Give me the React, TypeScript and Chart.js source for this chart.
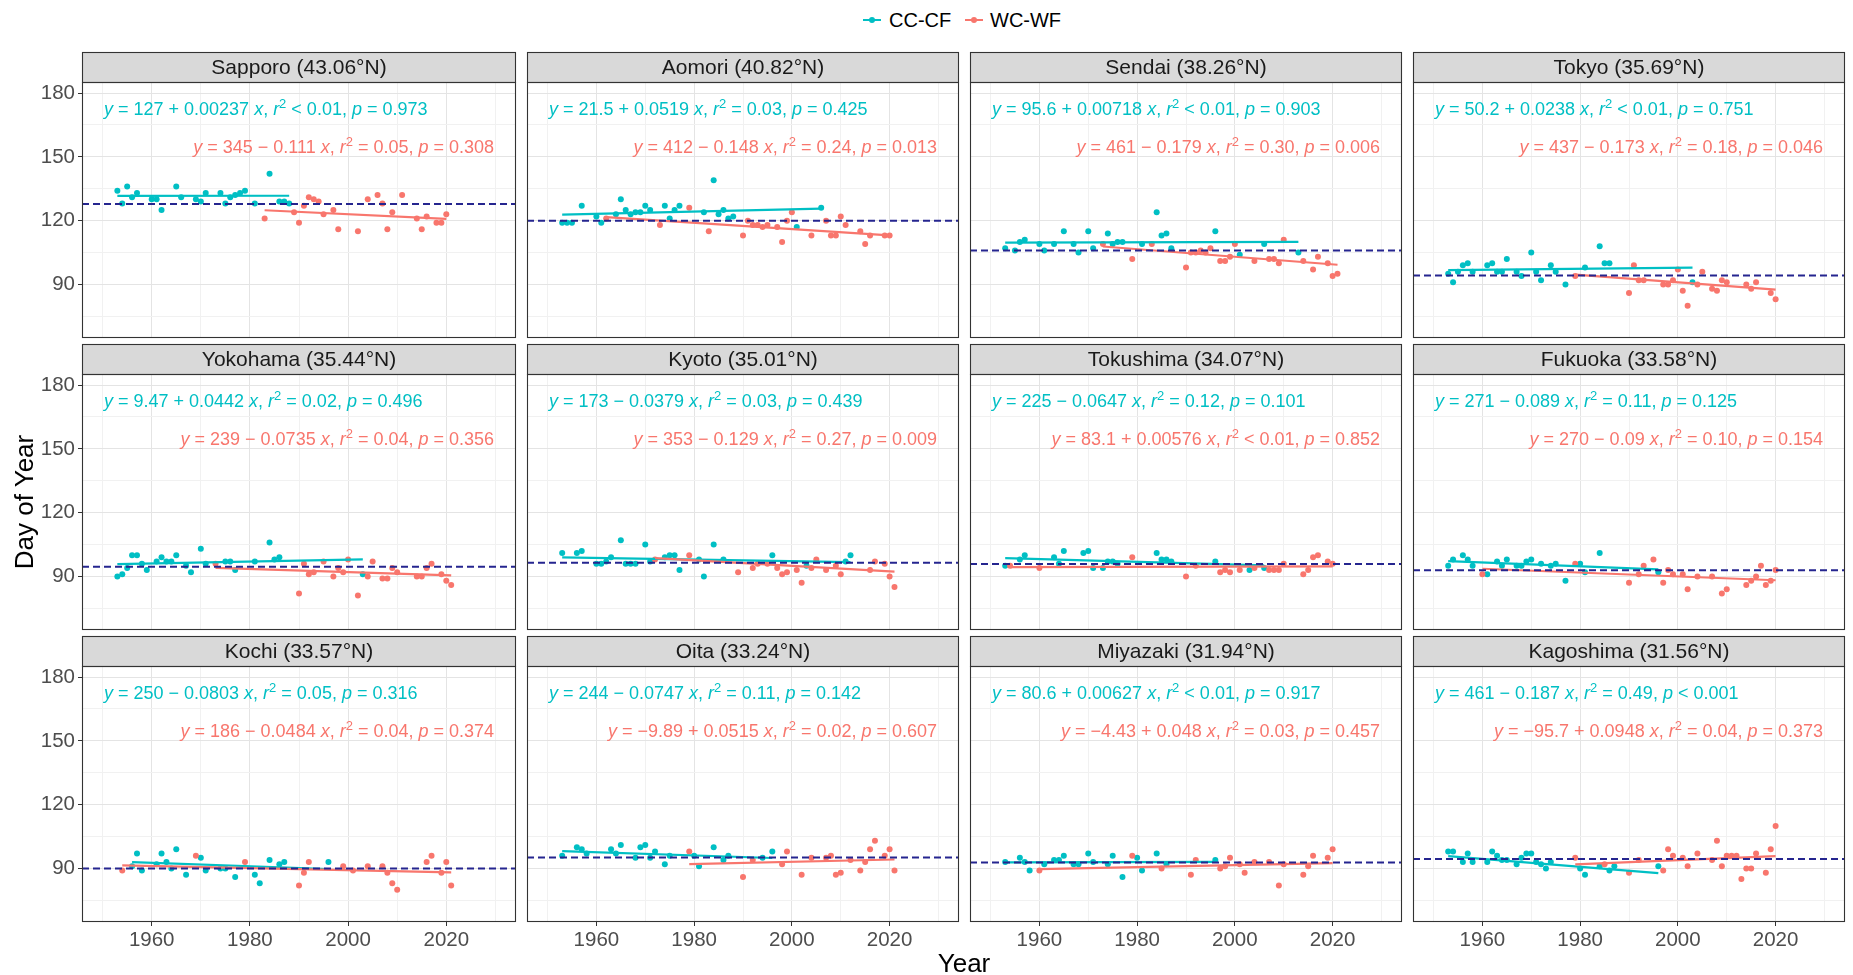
import React, { useEffect, useRef } from "react";
import { Chart, registerables } from "chart.js";

Chart.register(...registerables);

const FONT = '"Liberation Sans", Arial, Helvetica, sans-serif';
const CC_COLOR = "#00BFC4";
const WC_COLOR = "#F8766D";
const REF_COLOR = "#25258f";

// ---- Data -------------------------------------------------------------

const stationNames = [
  "Sapporo (43.06°N)", "Aomori (40.82°N)", "Sendai (38.26°N)", "Tokyo (35.69°N)",
  "Yokohama (35.44°N)", "Kyoto (35.01°N)", "Tokushima (34.07°N)", "Fukuoka (33.58°N)",
  "Kochi (33.57°N)", "Oita (33.24°N)", "Miyazaki (31.94°N)", "Kagoshima (31.56°N)",
];

// [year, day of year]
const sapporoCC = [[1953,134],[1954,128],[1955,136],[1956,131],[1957,133],[1960,130],[1961,130],[1962,125],[1965,136],[1966,131],[1969,130],[1970,129],[1971,133],[1974,133],[1975,128],[1976,131],[1977,132],[1978,133],[1979,134],[1981,128],[1984,142],[1986,129],[1987,129],[1988,128]];
const sapporoWC = [[1983,121],[1989,124],[1990,119],[1991,127],[1992,131],[1993,130],[1994,129],[1995,123],[1997,125],[1998,116],[2002,115],[2004,130],[2006,132],[2007,128],[2008,116],[2009,124],[2011,132],[2014,121],[2015,116],[2016,122],[2018,119],[2019,119],[2020,123]];
const aomoriCC = [[1953,119],[1954,119],[1955,119],[1957,127],[1960,122],[1961,119],[1964,123],[1965,130],[1966,125],[1967,123],[1968,124],[1969,124],[1970,127],[1971,125],[1974,127],[1975,121],[1976,125],[1977,127],[1982,124],[1984,139],[1985,123],[1986,125],[1987,121],[1988,122],[2001,117],[2006,126]];
const aomoriWC = [[1962,121],[1973,118],[1979,126],[1983,115],[1990,113],[1991,120],[1992,118],[1993,118],[1994,117],[1995,118],[1997,117],[1998,110],[1999,120],[2000,124],[2004,113],[2007,120],[2008,113],[2009,113],[2010,122],[2011,118],[2014,115],[2015,109],[2016,113],[2019,113],[2020,113]];
const sendaiCC = [[1953,107],[1955,106],[1956,110],[1957,111],[1960,109],[1961,106],[1963,109],[1965,115],[1967,109],[1968,105],[1970,115],[1971,107],[1974,114],[1975,109],[1976,110],[1977,110],[1981,109],[1984,124],[1985,113],[1986,114],[1987,107],[1996,115],[2001,104],[2006,109],[2013,105]];
const sendaiWC = [[1973,109],[1979,102],[1983,109],[1990,98],[1991,105],[1992,105],[1993,106],[1994,105],[1995,107],[1997,101],[1998,101],[1999,103],[2000,109],[2004,101],[2007,102],[2008,102],[2009,100],[2010,111],[2014,101],[2016,97],[2017,103],[2019,100],[2020,94],[2021,95]];
const tokyoCC = [[1953,95],[1954,91],[1955,96],[1956,99],[1957,100],[1958,96],[1961,99],[1962,100],[1963,96],[1964,96],[1965,102],[1967,96],[1968,94],[1970,105],[1971,96],[1972,92],[1974,99],[1975,96],[1977,90],[1981,98],[1984,108],[1985,100],[1986,100],[2003,91]];
const tokyoWC = [[1979,94],[1990,86],[1991,99],[1992,92],[1993,92],[1997,90],[1998,90],[1999,92],[2000,97],[2001,87],[2002,80],[2004,90],[2005,96],[2007,88],[2008,87],[2009,92],[2010,91],[2014,90],[2015,88],[2016,91],[2019,86],[2020,83]];
const yokohamaCC = [[1953,90],[1954,91],[1955,94],[1956,100],[1957,100],[1958,96],[1959,93],[1961,97],[1962,99],[1963,97],[1964,97],[1965,100],[1967,95],[1968,92],[1970,103],[1971,96],[1975,97],[1976,97],[1977,93],[1981,97],[1984,106],[1985,98],[1986,99],[2003,91]];
const yokohamaWC = [[1973,96],[1990,82],[1991,96],[1992,91],[1993,92],[1995,97],[1997,90],[1998,94],[1999,92],[2000,98],[2002,81],[2004,90],[2005,97],[2007,89],[2008,89],[2009,94],[2010,92],[2014,90],[2015,90],[2016,94],[2017,96],[2019,91],[2020,88],[2021,86]];
const kyotoCC = [[1953,101],[1956,101],[1957,102],[1960,96],[1961,96],[1962,97],[1963,99],[1965,107],[1966,96],[1967,96],[1968,96],[1970,105],[1971,97],[1974,99],[1975,100],[1976,100],[1977,93],[1981,98],[1982,90],[1984,105],[1986,98],[1996,100],[2003,95],[2011,97],[2012,100]];
const kyotoWC = [[1972,98],[1979,100],[1989,92],[1992,94],[1993,96],[1995,96],[1997,94],[1998,91],[1999,92],[2001,93],[2002,87],[2004,94],[2005,98],[2007,93],[2009,95],[2010,91],[2016,93],[2017,97],[2019,96],[2020,90],[2021,85]];
const tokushimaCC = [[1953,95],[1956,98],[1957,100],[1963,99],[1964,96],[1965,102],[1969,101],[1970,102],[1971,94],[1973,94],[1974,97],[1975,97],[1976,96],[1984,101],[1985,98],[1986,98],[1987,97],[1996,97],[2003,93],[2006,94]];
const tokushimaWC = [[1954,95],[1960,94],[1979,99],[1990,90],[1992,95],[1997,92],[1998,93],[1999,92],[2001,93],[2004,94],[2007,93],[2008,93],[2009,93],[2010,96],[2014,91],[2015,93],[2016,99],[2017,100],[2019,97],[2020,96]];
const fukuokaCC = [[1953,95],[1954,98],[1956,100],[1957,98],[1958,95],[1961,91],[1963,97],[1964,95],[1965,98],[1967,95],[1968,95],[1969,97],[1970,98],[1972,96],[1974,95],[1975,96],[1977,88],[1980,96],[1981,92],[1984,101],[1996,92]];
const fukuokaWC = [[1960,91],[1979,96],[1990,87],[1992,91],[1993,95],[1995,98],[1997,87],[1998,93],[1999,91],[2001,91],[2002,84],[2004,90],[2007,90],[2009,82],[2010,84],[2014,86],[2015,88],[2016,90],[2017,95],[2018,86],[2019,88],[2020,93]];
const kochiCC = [[1956,91],[1957,97],[1958,89],[1961,92],[1962,97],[1963,93],[1964,90],[1965,99],[1967,87],[1970,95],[1971,89],[1974,90],[1975,90],[1977,86],[1981,87],[1982,83],[1984,94],[1986,92],[1987,93],[1996,93]];
const kochiWC = [[1954,89],[1969,96],[1979,93],[1990,82],[1991,88],[1992,93],[1999,91],[2001,89],[2004,91],[2007,91],[2008,88],[2009,83],[2010,80],[2016,93],[2017,96],[2019,88],[2020,93],[2021,82]];
const oitaCC = [[1953,96],[1956,100],[1957,99],[1958,97],[1963,99],[1964,97],[1965,101],[1968,95],[1969,100],[1970,101],[1971,95],[1972,98],[1974,92],[1975,96],[1980,96],[1981,91],[1984,100],[1986,94],[1987,96],[1994,95],[1996,98]];
const oitaWC = [[1979,98],[1990,86],[1992,94],[1998,92],[1999,98],[2002,87],[2004,95],[2007,95],[2008,96],[2009,87],[2010,88],[2012,94],[2014,89],[2015,93],[2016,99],[2017,103],[2019,96],[2020,99],[2021,89]];
const miyazakiCC = [[1953,93],[1956,95],[1957,93],[1958,89],[1961,92],[1963,94],[1964,94],[1965,96],[1967,92],[1968,92],[1970,97],[1971,93],[1974,92],[1975,96],[1977,86],[1980,95],[1981,89],[1984,97],[1986,92],[1996,94]];
const miyazakiWC = [[1960,89],[1979,96],[1985,90],[1991,87],[1992,94],[1997,90],[1998,91],[1999,95],[2001,92],[2002,88],[2004,93],[2007,93],[2009,82],[2010,92],[2014,87],[2015,91],[2016,96],[2019,95],[2020,99]];
const kagoshimaCC = [[1953,98],[1954,98],[1956,93],[1957,97],[1958,93],[1961,93],[1962,98],[1963,96],[1964,94],[1965,94],[1967,92],[1968,95],[1969,97],[1970,97],[1971,93],[1972,92],[1973,90],[1974,93],[1980,90],[1981,87],[1984,91],[1986,89],[1987,91],[1996,91]];
const kagoshimaWC = [[1979,95],[1985,92],[1990,88],[1992,94],[1997,89],[1998,99],[1999,96],[2001,95],[2002,91],[2004,97],[2007,94],[2008,103],[2009,91],[2010,96],[2011,96],[2012,96],[2013,85],[2014,90],[2015,90],[2016,97],[2018,88],[2019,99],[2020,110]];

const ccSeries = [sapporoCC, aomoriCC, sendaiCC, tokyoCC, yokohamaCC, kyotoCC, tokushimaCC, fukuokaCC, kochiCC, oitaCC, miyazakiCC, kagoshimaCC];
const wcSeries = [sapporoWC, aomoriWC, sendaiWC, tokyoWC, yokohamaWC, kyotoWC, tokushimaWC, fukuokaWC, kochiWC, oitaWC, miyazakiWC, kagoshimaWC];

// linear fits: day = intercept + slope * year
const ccIntercept = [127, 21.5, 95.6, 50.2, 9.47, 173, 225, 271, 250, 244, 80.6, 461];
const ccSlope = [0.00237, 0.0519, 0.00718, 0.0238, 0.0442, -0.0379, -0.0647, -0.089, -0.0803, -0.0747, 0.00627, -0.187];
const ccR2 = ["< 0.01", "= 0.03", "< 0.01", "< 0.01", "= 0.02", "= 0.03", "= 0.12", "= 0.11", "= 0.05", "= 0.11", "< 0.01", "= 0.49"];
const ccP = ["= 0.973", "= 0.425", "= 0.903", "= 0.751", "= 0.496", "= 0.439", "= 0.101", "= 0.125", "= 0.316", "= 0.142", "= 0.917", "< 0.001"];

const wcIntercept = [345, 412, 461, 437, 239, 353, 83.1, 270, 186, -9.89, -4.43, -95.7];
const wcSlope = [-0.111, -0.148, -0.179, -0.173, -0.0735, -0.129, 0.00576, -0.09, -0.0484, 0.0515, 0.048, 0.0948];
const wcR2 = ["= 0.05", "= 0.24", "= 0.30", "= 0.18", "= 0.04", "= 0.27", "< 0.01", "= 0.10", "= 0.04", "= 0.02", "= 0.03", "= 0.04"];
const wcP = ["= 0.308", "= 0.013", "= 0.006", "= 0.046", "= 0.356", "= 0.009", "= 0.852", "= 0.154", "= 0.374", "= 0.607", "= 0.457", "= 0.373"];

// long-term reference day per station (dashed line)
const refDay = [127.8, 120, 106, 94.2, 94.5, 96.4, 95.8, 92.9, 90, 95.1, 92.8, 94.4];

const xTicks = [1950, 1960, 1970, 1980, 1990, 2000, 2010, 2020, 2030];
const yTicks = [75, 90, 105, 120, 135, 150, 165, 180];
const X_MIN = 1945.8;
const X_MAX = 2034.2;
const Y_MIN = 64.8;
const Y_MAX = 185.2;

// ---- Layout -----------------------------------------------------------

const COL_LEFT = [82, 525, 968, 1411];
const ROW_TOP = [52, 344, 636];
const PLOT_W = 436;
const PLOT_H = 256;
const STRIP_H = 30;
const PAD = 2;
const PAD_B = 16; // room for the half-height of the lowest y tick label box
const Y_AXIS_W = 64;
const X_AXIS_H = 40;

function fmtNum(v: number) {
  return v < 0 ? "\u2212" + String(Math.abs(v)) : String(v);
}

function eqLabel(a: number, b: number, r2: string, p: string) {
  return `y = ${fmtNum(a)} ${b < 0 ? "\u2212" : "+"} ${Math.abs(b)} x, r² ${r2}, p ${p}`;
}

function drawRich(ctx: CanvasRenderingContext2D, text: string, x: number, y: number, align: "left" | "right", color: string, size: number) {
  const segs: { t: string; kind: string }[] = [];
  const isAl = (c?: string) => !!c && /[A-Za-z0-9]/.test(c);
  for (let i = 0; i < text.length; i++) {
    const ch = text[i];
    let kind = "n";
    if (ch === "²") kind = "s";
    else if ("yxrp".includes(ch) && !isAl(text[i - 1]) && !isAl(text[i + 1])) kind = "i";
    const t = kind === "s" ? "2" : ch;
    const last = segs[segs.length - 1];
    if (last && last.kind === kind) last.t += t;
    else segs.push({ t, kind });
  }
  const fontFor = (k: string) =>
    k === "i" ? `italic ${size}px ${FONT}` : k === "s" ? `${Math.round(size * 0.7)}px ${FONT}` : `${size}px ${FONT}`;
  let total = 0;
  const widths = segs.map((s) => {
    ctx.font = fontFor(s.kind);
    const w = ctx.measureText(s.t).width;
    total += w;
    return w;
  });
  let cx = align === "right" ? x - total : x;
  ctx.fillStyle = color;
  ctx.textAlign = "left";
  ctx.textBaseline = "alphabetic";
  segs.forEach((s, i) => {
    ctx.font = fontFor(s.kind);
    ctx.fillText(s.t, cx, s.kind === "s" ? y - size * 0.4 : y);
    cx += widths[i];
  });
}

function fitLine(pts: number[][], a: number, b: number) {
  const xs = pts.map((p) => p[0]);
  const x0 = Math.min(...xs);
  const x1 = Math.max(...xs);
  return [
    { x: x0, y: a + b * x0 },
    { x: x1, y: a + b * x1 },
  ];
}

function Panel({ idx }: { idx: number }) {
  const ref = useRef<HTMLCanvasElement | null>(null);
  const row = Math.floor(idx / 4);
  const col = idx % 4;
  const axisW = col === 0 ? Y_AXIS_W : 0;
  const axisH = row === 2 ? X_AXIS_H : 0;
  const w = PAD + axisW + PLOT_W + PAD;
  const h = PAD + STRIP_H + PLOT_H + axisH + PAD_B;
  const left = COL_LEFT[col] - axisW - PAD;
  const top = ROW_TOP[row] - PAD;

  useEffect(() => {
    const cc = ccSeries[idx];
    const wc = wcSeries[idx];
    const ccText = eqLabel(ccIntercept[idx], ccSlope[idx], ccR2[idx], ccP[idx]);
    const wcText = eqLabel(wcIntercept[idx], wcSlope[idx], wcR2[idx], wcP[idx]);

    const decor = {
      id: "panelDecor",
      afterDraw(chart: any) {
        const { ctx, chartArea: a } = chart;
        ctx.save();
        // strip
        ctx.fillStyle = "#d9d9d9";
        ctx.fillRect(a.left, a.top - STRIP_H, a.right - a.left, STRIP_H);
        ctx.strokeStyle = "#333333";
        ctx.lineWidth = 1.1;
        ctx.strokeRect(a.left + 0.5, a.top - STRIP_H + 0.5, a.right - a.left - 1, STRIP_H);
        // panel border
        ctx.strokeRect(a.left + 0.5, a.top + 0.5, a.right - a.left - 1, a.bottom - a.top - 1);
        // strip label
        ctx.fillStyle = "#1a1a1a";
        ctx.font = `21px ${FONT}`;
        ctx.textAlign = "center";
        ctx.textBaseline = "middle";
        ctx.fillText(stationNames[idx], (a.left + a.right) / 2, a.top - STRIP_H / 2 + 1);
        // fit equations
        drawRich(ctx, ccText, a.left + 22, a.top + 33, "left", CC_COLOR, 18);
        drawRich(ctx, wcText, a.right - 22, a.top + 71, "right", WC_COLOR, 18);
        ctx.restore();
      },
    };

    const majorX = (v: number) => v % 20 === 0;
    const majorY = (v: number) => v % 30 === 0;
    const tickFont = { family: FONT, size: 20.5 };

    const chart = new Chart(ref.current as HTMLCanvasElement, {
      type: "scatter",
      data: {
        datasets: [
          {
            type: "scatter",
            label: "CC-CF",
            data: cc.map(([x, y]) => ({ x, y })),
            backgroundColor: CC_COLOR,
            borderWidth: 0,
            pointRadius: 3,
            order: 5,
          },
          {
            type: "scatter",
            label: "WC-WF",
            data: wc.map(([x, y]) => ({ x, y })),
            backgroundColor: WC_COLOR,
            borderWidth: 0,
            pointRadius: 3,
            order: 4,
          },
          {
            type: "line",
            data: fitLine(cc, ccIntercept[idx], ccSlope[idx]),
            borderColor: CC_COLOR,
            borderWidth: 2.2,
            pointRadius: 0,
            order: 3,
          },
          {
            type: "line",
            data: fitLine(wc, wcIntercept[idx], wcSlope[idx]),
            borderColor: WC_COLOR,
            borderWidth: 2.2,
            pointRadius: 0,
            order: 2,
          },
          {
            type: "line",
            data: [
              { x: X_MIN, y: refDay[idx] },
              { x: X_MAX, y: refDay[idx] },
            ],
            borderColor: REF_COLOR,
            borderWidth: 2,
            borderDash: [7, 4],
            pointRadius: 0,
            order: 1,
          },
        ] as any,
      },
      options: {
        responsive: false,
        animation: false,
        events: [],
        layout: { padding: { left: PAD, right: PAD, top: PAD + STRIP_H, bottom: PAD_B } },
        plugins: {
          legend: { display: false },
          tooltip: { enabled: false },
          title: { display: false },
        },
        scales: {
          x: {
            type: "linear",
            min: X_MIN,
            max: X_MAX,
            afterBuildTicks: (s: any) => {
              s.ticks = xTicks.map((v) => ({ value: v }));
            },
            afterFit: (s: any) => {
              s.height = axisH;
            },
            border: { display: false },
            grid: {
              color: (c: any) => (majorX(c.tick.value) ? "#e4e4e4" : "#f1f1f1"),
              lineWidth: 1,
              drawTicks: row === 2,
              tickLength: 4,
              tickColor: (c: any) => (majorX(c.tick.value) ? "#333333" : "rgba(0,0,0,0)"),
            },
            ticks: {
              display: row === 2,
              autoSkip: false,
              maxRotation: 0,
              padding: 2,
              color: "#4d4d4d",
              font: tickFont,
              callback: (v: any) => (majorX(Number(v)) ? String(v) : ""),
            },
          },
          y: {
            type: "linear",
            min: Y_MIN,
            max: Y_MAX,
            afterBuildTicks: (s: any) => {
              s.ticks = yTicks.map((v) => ({ value: v }));
            },
            afterFit: (s: any) => {
              s.width = axisW;
            },
            border: { display: false },
            grid: {
              color: (c: any) => (majorY(c.tick.value) ? "#e4e4e4" : "#f1f1f1"),
              lineWidth: 1,
              drawTicks: col === 0,
              tickLength: 4,
              tickColor: (c: any) => (majorY(c.tick.value) ? "#333333" : "rgba(0,0,0,0)"),
            },
            ticks: {
              display: col === 0,
              autoSkip: false,
              padding: 3,
              color: "#4d4d4d",
              font: tickFont,
              callback: (v: any) => (majorY(Number(v)) ? String(v) : ""),
            },
          },
        },
      } as any,
      plugins: [decor],
    });
    return () => chart.destroy();
  }, [idx]);

  return (
    <canvas
      ref={ref}
      width={w}
      height={h}
      style={{ position: "absolute", left, top, width: w, height: h }}
    />
  );
}

function LegendKey({ color, x }: { color: string; x: number }) {
  return (
    <div style={{ position: "absolute", left: x - 9, top: 19, width: 18, height: 2, background: color }}>
      <div
        style={{
          position: "absolute",
          left: 6,
          top: -2.5,
          width: 6,
          height: 6,
          borderRadius: 3,
          background: color,
        }}
      />
    </div>
  );
}

export default function App() {
  useEffect(() => {
    document.body.style.margin = "0";
  }, []);
  const panels = stationNames.map((_, i) => <Panel key={i} idx={i} />);
  return (
    <div
      style={{
        position: "absolute",
        left: 0,
        top: 0,
        width: 1853,
        height: 975,
        background: "#ffffff",
        overflow: "hidden",
        fontFamily: FONT,
        color: "#000",
      }}
    >
      <LegendKey color={CC_COLOR} x={872} />
      <div style={{ position: "absolute", left: 889, top: 8, fontSize: 20, lineHeight: "24px" }}>CC-CF</div>
      <LegendKey color={WC_COLOR} x={974} />
      <div style={{ position: "absolute", left: 990, top: 8, fontSize: 20, lineHeight: "24px" }}>WC-WF</div>
      {panels}
      <div
        style={{
          position: "absolute",
          left: 24 - 100,
          top: 502 - 15,
          width: 200,
          height: 30,
          lineHeight: "30px",
          fontSize: 26,
          textAlign: "center",
          transform: "rotate(-90deg)",
        }}
      >
        Day of Year
      </div>
      <div
        style={{
          position: "absolute",
          left: 864,
          top: 948,
          width: 200,
          height: 30,
          lineHeight: "30px",
          fontSize: 26,
          textAlign: "center",
        }}
      >
        Year
      </div>
    </div>
  );
}
